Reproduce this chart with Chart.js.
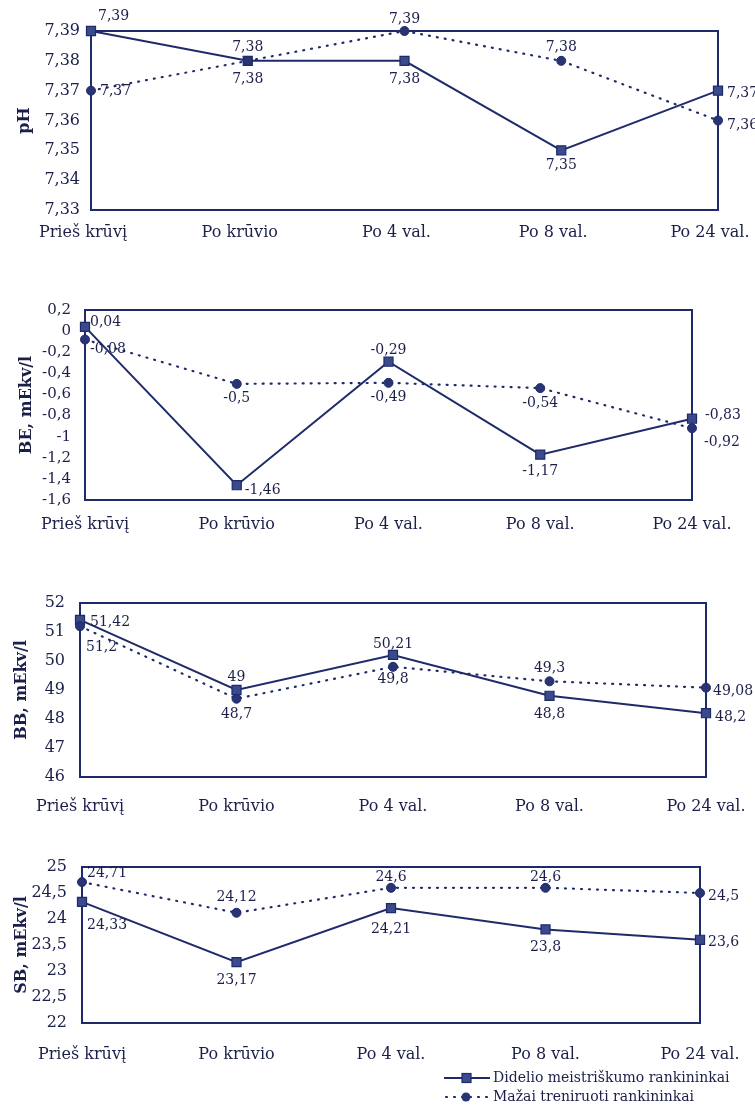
<!DOCTYPE html>
<html><head><meta charset="utf-8">
<script src="https://cdn.jsdelivr.net/npm/chart.js@4.4.1/dist/chart.umd.min.js"></script>
<style>
html,body{margin:0;padding:0;background:#fff;width:755px;height:1112px;overflow:hidden;position:relative}
canvas{position:absolute;left:0}
</style></head><body>
<canvas id="c1" width="755" height="260" style="top:0px"></canvas>
<canvas id="c2" width="755" height="290" style="top:260px"></canvas>
<canvas id="c3" width="755" height="290" style="top:550px"></canvas>
<canvas id="c4" width="755" height="272" style="top:840px"></canvas>
<script>
// ---- data ----
const categories = ['Prieš krūvį', 'Po krūvio', 'Po 4 val.', 'Po 8 val.', 'Po 24 val.'];
const seriesNames = ['Didelio meistriškumo rankininkai', 'Mažai treniruoti rankininkai'];

const phDidelio = [7.39, 7.38, 7.38, 7.35, 7.37];
const phMazai   = [7.37, 7.38, 7.39, 7.38, 7.36];
const phTicks   = [7.33, 7.34, 7.35, 7.36, 7.37, 7.38, 7.39];

const beDidelio = [0.04, -1.46, -0.29, -1.17, -0.83];
const beMazai   = [-0.08, -0.5, -0.49, -0.54, -0.92];
const beTicks   = [-1.6, -1.4, -1.2, -1, -0.8, -0.6, -0.4, -0.2, 0, 0.2];

const bbDidelio = [51.42, 49, 50.21, 48.8, 48.2];
const bbMazai   = [51.2, 48.7, 49.8, 49.3, 49.08];
const bbTicks   = [46, 47, 48, 49, 50, 51, 52];

const sbDidelio = [24.33, 23.17, 24.21, 23.8, 23.6];
const sbMazai   = [24.71, 24.12, 24.6, 24.6, 24.5];
const sbTicks   = [22, 22.5, 23, 23.5, 24, 24.5, 25];

// ---- styles ----
const NAVY = '#1f2a6b';
const TEXT = '#1b1f4a';
const SQUARE = '#3a4a8c';
const CIRCLE = '#283474';
const SERIF = "'DejaVu Serif', 'Liberation Serif', serif";

const fmt = v => String(+(+v).toFixed(2)).replace('.', ',');

const boxPlugin = {
  id: 'box',
  beforeDatasetsDraw(chart) {
    const {ctx, chartArea: a} = chart;
    ctx.save();
    ctx.strokeStyle = NAVY;
    ctx.lineWidth = 2;
    ctx.strokeRect(a.left, a.top, a.right - a.left, a.bottom - a.top);
    ctx.restore();
  }
};

const labelPlugin = {
  id: 'vlabels',
  afterDatasetsDraw(chart) {
    const ctx = chart.ctx;
    ctx.save();
    ctx.font = '14px ' + SERIF;
    ctx.fillStyle = TEXT;
    ctx.textBaseline = 'middle';
    chart.data.datasets.forEach((ds, i) => {
      const meta = chart.getDatasetMeta(i);
      meta.data.forEach((pt, j) => {
        const p = ds.labelPos[j];
        ctx.textAlign = p[2];
        ctx.fillText(fmt(ds.data[j]), pt.x + p[0], pt.y + p[1]);
      });
    });
    ctx.restore();
  }
};

const legendPlugin = {
  id: 'customLegend',
  afterDraw(chart) {
    const ctx = chart.ctx;
    const rows = [238, 257];
    ctx.save();
    ctx.strokeStyle = NAVY; ctx.lineWidth = 2;
    ctx.beginPath(); ctx.moveTo(444, rows[0]); ctx.lineTo(490, rows[0]); ctx.stroke();
    ctx.fillStyle = SQUARE; ctx.lineWidth = 1.2;
    ctx.fillRect(462, rows[0] - 4.5, 9, 9); ctx.strokeRect(462, rows[0] - 4.5, 9, 9);
    ctx.setLineDash([1, 7]); ctx.lineCap = 'round'; ctx.lineWidth = 2.2;
    ctx.beginPath(); ctx.moveTo(446, rows[1]); ctx.lineTo(492, rows[1]); ctx.stroke();
    ctx.setLineDash([]);
    ctx.fillStyle = CIRCLE;
    ctx.beginPath(); ctx.arc(466, rows[1], 4.5, 0, Math.PI * 2); ctx.fill();
    ctx.fillStyle = TEXT;
    ctx.font = '14px ' + SERIF;
    ctx.textAlign = 'left'; ctx.textBaseline = 'middle';
    ctx.fillText(seriesNames[0], 493, rows[0]);
    ctx.fillText(seriesNames[1], 493, rows[1]);
    ctx.restore();
  }
};

function makeChart(id, o) {
  return new Chart(document.getElementById(id), {
    type: 'line',
    data: {
      labels: categories,
      datasets: [
        {
          label: seriesNames[1], data: o.mazai, labelPos: o.mazaiPos,
          borderColor: NAVY, borderWidth: 2.2, borderDash: [1, 7], borderCapStyle: 'round',
          pointStyle: 'circle', pointRadius: 4.5, pointBackgroundColor: CIRCLE,
          pointBorderColor: NAVY, pointBorderWidth: 1, clip: false, tension: 0
        },
        {
          label: seriesNames[0], data: o.didelio, labelPos: o.didelioPos,
          borderColor: NAVY, borderWidth: 2,
          pointStyle: 'rect', pointRadius: 6.4, pointBackgroundColor: SQUARE,
          pointBorderColor: NAVY, pointBorderWidth: 1.2, clip: false, tension: 0
        }
      ]
    },
    options: {
      responsive: false, animation: false, devicePixelRatio: 1,
      layout: {padding: {left: 0, top: o.padTop, right: o.padRight, bottom: o.padBottom}},
      plugins: {legend: {display: false}, tooltip: {enabled: false}},
      scales: {
        x: {
          offset: false,
          grid: {display: false, drawTicks: false},
          border: {display: false},
          ticks: {font: {family: SERIF, size: 16}, color: TEXT, padding: o.xPad, maxRotation: 0,
                  autoSkip: false, labelOffset: o.xShift || 0},
          afterFit(s) { s.height = 40; s.paddingLeft = 0; s.paddingRight = 0; }
        },
        y: {
          min: o.ticks[0], max: o.ticks[o.ticks.length - 1],
          grid: {display: false, drawTicks: false},
          border: {display: false},
          afterBuildTicks(s) { s.ticks = o.ticks.map(v => ({value: v})); },
          ticks: {font: {family: SERIF, size: o.tickSize || 16}, color: TEXT, padding: o.yPad, autoSkip: false, callback: v => fmt(v)},
          title: {display: true, text: o.title, color: TEXT,
                  font: {family: SERIF, size: 16, weight: 'bold'},
                  padding: {top: o.titlePad, bottom: 0}},
          afterFit(s) { s.width = o.left; }
        }
      }
    },
    plugins: [boxPlugin, labelPlugin].concat(o.legend ? [legendPlugin] : [])
  });
}

makeChart('c1', {
  didelio: phDidelio, mazai: phMazai, ticks: phTicks, title: 'pH', xShift: -8,
  didelioPos: [[7, -15, 'left'], [0, 19, 'center'], [0, 19, 'center'], [0, 15, 'center'], [9, 3, 'left']],
  mazaiPos: [[9, 1, 'left'], [0, -13, 'center'], [0, -12, 'center'], [0, -13, 'center'], [9, 5, 'left']],
  left: 91, padTop: 31, padRight: 37, padBottom: 10, xPad: 13, yPad: 11, titlePad: 15
});
makeChart('c2', {
  didelio: beDidelio, mazai: beMazai, ticks: beTicks, title: 'BE, mEkv/l', tickSize: 15,
  didelioPos: [[5, -5, 'left'], [8, 5, 'left'], [0, -11, 'center'], [0, 17, 'center'], [13, -3, 'left']],
  mazaiPos: [[5, 10, 'left'], [0, 14, 'center'], [0, 15, 'center'], [0, 15, 'center'], [12, 14, 'left']],
  left: 85, padTop: 50, padRight: 63, padBottom: 10, xPad: 15, yPad: 14, titlePad: 17
});
makeChart('c3', {
  didelio: bbDidelio, mazai: bbMazai, ticks: bbTicks, title: 'BB, mEkv/l',
  didelioPos: [[10, 3, 'left'], [0, -13, 'center'], [0, -11, 'center'], [0, 19, 'center'], [9, 4, 'left']],
  mazaiPos: [[6, 21, 'left'], [0, 16, 'center'], [0, 13, 'center'], [0, -13, 'center'], [7, 4, 'left']],
  left: 80, padTop: 53, padRight: 49, padBottom: 23, xPad: 20, yPad: 15, titlePad: 12
});
makeChart('c4', {
  didelio: sbDidelio, mazai: sbMazai, ticks: sbTicks, title: 'SB, mEkv/l', legend: true,
  didelioPos: [[5, 24, 'left'], [0, 18, 'center'], [0, 21, 'center'], [0, 18, 'center'], [8, 3, 'left']],
  mazaiPos: [[5, -9, 'left'], [0, -15, 'center'], [0, -10, 'center'], [0, -10, 'center'], [8, 3, 'left']],
  left: 82, padTop: 27, padRight: 55, padBottom: 49, xPad: 22, yPad: 15, titlePad: 12
});
</script>
</body></html>
